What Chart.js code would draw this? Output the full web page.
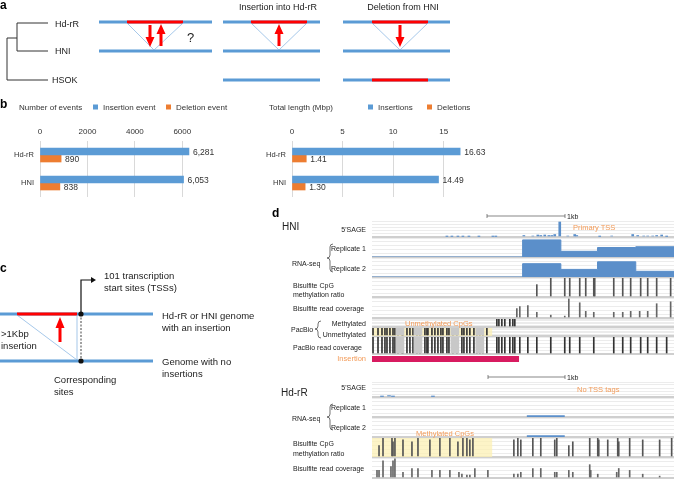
<!DOCTYPE html>
<html>
<head>
<meta charset="utf-8">
<script src="https://cdn.jsdelivr.net/npm/chart.js@4.4.0/dist/chart.umd.min.js"></script>
<style>
  body { margin: 0; background: #fff; width: 674px; height: 479px; overflow: hidden; position: relative;
         font-family: "Liberation Sans", Arial, sans-serif; }
  canvas { position: absolute; }
  svg { position: absolute; left: 0; top: 0; z-index: 2; pointer-events: none; }
  .g { stroke: #5b9bd5; stroke-width: 3; }
  .r { stroke: #ff0000; stroke-width: 3.2; }
  .t { stroke: #7fb0e0; stroke-width: 0.7; fill: none; }
  .lbl { font-size: 7px; fill: #222; }
  .org { font-size: 7.5px; fill: #f39c5a; }
</style>
</head>
<body>
<svg width="674" height="479" font-family="Liberation Sans, Arial, sans-serif">
  <!-- a -->
  <text x="0" y="9" font-size="12" font-weight="bold">a</text>
  <path d="M48 23H17V51H48M17 38H7V80H48" stroke="#333" stroke-width="1" fill="none"/>
  <g font-size="9" fill="#222">
    <text x="55" y="27">Hd-rR</text>
    <text x="55" y="54">HNI</text>
    <text x="52" y="83">HSOK</text>
    <text x="278" y="10" text-anchor="middle">Insertion into Hd-rR</text>
    <text x="403" y="10" text-anchor="middle">Deletion from HNI</text>
  </g>
  <line x1="99" y1="22" x2="212" y2="22" class="g"/>
  <line x1="127" y1="22" x2="183" y2="22" class="r"/>
  <line x1="99" y1="51" x2="212" y2="51" class="g"/>
  <polyline points="127,23 154,50 183,23" class="t"/>
  <path d="M148.5 25h3v12h3l-4.5 10l-4.5-10h3z" fill="#ff0000"/>
  <path d="M159.5 46h3v-12h3l-4.5-10l-4.5 10h3z" fill="#ff0000"/>
  <text x="187" y="42" font-size="13" fill="#222">?</text>

  <line x1="223" y1="22" x2="320" y2="22" class="g"/>
  <line x1="251" y1="22" x2="307" y2="22" class="r"/>
  <line x1="223" y1="51" x2="320" y2="51" class="g"/>
  <polyline points="251,23 279,50 307,23" class="t"/>
  <path d="M277.5 46h3v-12h3l-4.5-10l-4.5 10h3z" fill="#ff0000"/>
  <line x1="223" y1="80" x2="320" y2="80" class="g"/>

  <line x1="343" y1="22" x2="450" y2="22" class="g"/>
  <line x1="372" y1="22" x2="428" y2="22" class="r"/>
  <line x1="343" y1="51" x2="450" y2="51" class="g"/>
  <polyline points="372,23 400,50 428,23" class="t"/>
  <path d="M398.5 25h3v12h3l-4.5 10l-4.5-10h3z" fill="#ff0000"/>
  <line x1="343" y1="80" x2="450" y2="80" class="g"/>
  <line x1="372" y1="80" x2="428" y2="80" class="r"/>

  <!-- b -->
  <text x="0" y="108" font-size="12" font-weight="bold">b</text>
  <g font-size="8" fill="#333">
    <text x="19" y="110">Number of events</text>
    <rect x="93" y="104.5" width="5" height="5" fill="#5b9bd5"/>
    <text x="103" y="110">Insertion event</text>
    <rect x="166" y="104.5" width="5" height="5" fill="#ed7d31"/>
    <text x="176" y="110">Deletion event</text>
    <text x="269" y="110">Total length (Mbp)</text>
    <rect x="368" y="104.5" width="5" height="5" fill="#5b9bd5"/>
    <text x="378" y="110">Insertions</text>
    <rect x="427" y="104.5" width="5" height="5" fill="#ed7d31"/>
    <text x="437" y="110">Deletions</text>
  </g>

  <!-- c -->
  <text x="0" y="272" font-size="12" font-weight="bold">c</text>
  <line x1="0" y1="314" x2="153" y2="314" class="g"/>
  <line x1="17" y1="314" x2="77" y2="314" class="r"/>
  <line x1="0" y1="361" x2="153" y2="361" class="g"/>
  <polyline points="17,315 77,360 77,315" class="t"/>
  <line x1="81" y1="314" x2="81" y2="361" stroke="#111" stroke-width="0.8" stroke-dasharray="2,1.5"/>
  <circle cx="81" cy="314" r="2.6" fill="#111"/>
  <circle cx="81" cy="361" r="2.6" fill="#111"/>
  <path d="M81 314V280H92" stroke="#111" stroke-width="1.2" fill="none"/>
  <path d="M91 277l5 3l-5 3z" fill="#111"/>
  <path d="M58.5 342v-14h-3l4.5-11l4.5 11h-3v14z" fill="#ff0000"/>
  <g font-size="9.5" fill="#222">
    <text x="104" y="279">101 transcription</text>
    <text x="104" y="291">start sites (TSSs)</text>
    <text x="162" y="319">Hd-rR or HNI genome</text>
    <text x="162" y="331">with an insertion</text>
    <text x="162" y="365">Genome with no</text>
    <text x="162" y="377">insertions</text>
    <text x="1" y="337">&gt;1Kbp</text>
    <text x="1" y="349">insertion</text>
    <text x="54" y="383">Corresponding</text>
    <text x="54" y="395">sites</text>
  </g>

  <!-- d -->
  <text x="272" y="217" font-size="12" font-weight="bold">d</text>
  <text x="282" y="230" font-size="10" fill="#222">HNI</text>
  <path d="M487 216H565M487 214v4M565 214v4" stroke="#555" stroke-width="0.7"/>
  <text x="567" y="219" class="lbl">1kb</text>
  <text x="366" y="232" class="lbl" text-anchor="end">5'SAGE</text>
  <text x="366" y="251" class="lbl" text-anchor="end">Replicate 1</text>
  <text x="366" y="271" class="lbl" text-anchor="end">Replicate 2</text>
  <text x="292" y="266" class="lbl">RNA-seq</text>
  <path d="M333 244Q330 244 330 247L330 255Q330 258 327 258Q330 258 330 261L330 269Q330 272 333 272" stroke="#333" stroke-width="0.7" fill="none"/>
  <text x="293" y="288" class="lbl">Bisulfite CpG</text>
  <text x="293" y="297" class="lbl">methylation ratio</text>
  <text x="293" y="311" class="lbl">Bisulfite read coverage</text>
  <text x="366" y="326" class="lbl" text-anchor="end">Methylated</text>
  <text x="366" y="337" class="lbl" text-anchor="end">Unmethylated</text>
  <text x="291" y="332" class="lbl">PacBio</text>
  <path d="M321 321Q318 321 318 324L318 326Q318 329 315 329Q318 329 318 332L318 335Q318 338 321 338" stroke="#333" stroke-width="0.7" fill="none"/>
  <text x="293" y="350" class="lbl">PacBio read coverage</text>
  <text x="366" y="361" class="org" text-anchor="end">Insertion</text>
  <text x="573" y="230" class="org">Primary TSS</text>
  <text x="405" y="326" class="org">Unmethylated CpGs</text>

  <text x="281" y="396" font-size="10" fill="#222">Hd-rR</text>
  <path d="M488 377H565M488 375v4M565 375v4" stroke="#555" stroke-width="0.7"/>
  <text x="567" y="380" class="lbl">1kb</text>
  <text x="366" y="390" class="lbl" text-anchor="end">5'SAGE</text>
  <text x="366" y="410" class="lbl" text-anchor="end">Replicate 1</text>
  <text x="366" y="430" class="lbl" text-anchor="end">Replicate 2</text>
  <text x="292" y="421" class="lbl">RNA-seq</text>
  <path d="M333 404Q330 404 330 407L330 414Q330 417 327 417Q330 417 330 420L330 427Q330 430 333 430" stroke="#333" stroke-width="0.7" fill="none"/>
  <text x="577" y="392" class="org">No TSS tags</text>
  <text x="416" y="436" class="org">Methylated CpGs</text>
  <text x="293" y="446" class="lbl">Bisulfite CpG</text>
  <text x="293" y="456" class="lbl">methylation ratio</text>
  <text x="293" y="471" class="lbl">Bisulfite read coverage</text>
</svg>

<script>
// panel b
const lines = ['Hd-rR', 'HNI'];
const insertionEvents = [6281, 6053];
const deletionEvents = [890, 838];
const insertionMbp = [16.63, 14.49];
const deletionMbp = [1.41, 1.30];
const eventTicks = [0, 2000, 4000, 6000];
const lengthTicks = [0, 5, 10, 15];

// panel d, positions in bp from the left edge of the window
const TRACK_BP = 3870;
const insertionSpan = [0, 1880];
const cpgSpan = [0, 1540];

const sageHniPos = [960, 1024, 1101, 1165, 1242, 1370, 1549, 1587, 1946, 2061, 2125, 2163, 2214, 2266, 2304,
  2342, 2406, 2509, 2598, 2624, 2918, 3072, 3341, 3405, 3482, 3533, 3597, 3648, 3712, 3776];
const sageHniTags = [1, 1, 1, 1, 1, 1, 1, 1, 3, 2, 4, 3, 4, 3, 3, 5, 30, 2, 5, 3, 1, 2, 5, 3, 2, 2, 2, 3, 4, 1];

const rnaSteps = [0, 1930, 2420, 2890, 3380, 3870];
const rnaHniRep1 = [0, 45, 15, 25, 27, 27];
const rnaHniRep2 = [0, 35, 20, 40, 15, 15];

const bsRatioHniPos = [2112, 2291, 2470, 2534, 2662, 2739, 2842, 2854, 3098, 3213, 3315, 3443, 3533, 3648, 3827];
const bsRatioHni = [0.65, 1, 1, 1, 1, 1, 1, 1, 1, 1, 1, 1, 1, 1, 1];
const bsCovHniPos = [1856, 1894, 1997, 2112, 2291, 2470, 2522, 2662, 2739, 2842, 3098, 3213, 3315, 3430, 3533, 3648, 3827];
const bsCovHni = [10, 12, 13, 6, 3, 2, 20, 16, 7, 6, 6, 6, 7, 7, 7, 15, 17];

const pbMethHniPos = [1600, 1626, 1664, 1702, 1766, 1805, 1830];
const pbUnmethHniPos = [13, 77, 128, 166, 192, 230, 269, 294, 333, 384, 397, 448, 486, 525, 576, 614, 678, 704,
  717, 768, 806, 845, 883, 909, 960, 986, 1037, 1088, 1152, 1178, 1216, 1254, 1306, 1344, 1382, 1421, 1472];
const pbBandsHniPos = [358, 589, 1062, 1382];
const pbCovRightHniPos = [1894, 1997, 2112, 2291, 2470, 2534, 2662, 2842, 3098, 3213, 3315, 3443, 3533, 3648, 3776];

const sageHdPos = [128, 218, 269, 781];
const sageHdTags = [1, 3, 1, 1];
const rnaHdSpan = [1984, 2470];
const rnaHdRep1 = 2;
const rnaHdRep2 = 2;

const bsRatioHdPos = [90, 141, 256, 269, 294, 397, 512, 589, 742, 870, 998, 1101, 1165, 1216, 1254, 1293, 1818,
  1869, 1907, 2061, 2163, 2342, 2368, 2522, 2573, 2790, 2893, 2906, 3021, 3149, 3162, 3302, 3469, 3686, 3840];
const bsRatioHd = [0.6, 1, 1, 0.8, 1, 0.9, 0.8, 1, 0.9, 1, 1, 0.8, 1, 1, 0.9, 1, 0.9, 1, 0.9, 1, 1, 0.9, 1, 0.6,
  0.8, 1, 1, 0.9, 0.9, 1, 0.8, 1, 0.9, 0.9, 1];
const bsCovHdPos = [64, 90, 141, 243, 269, 294, 397, 512, 589, 768, 870, 998, 1114, 1152, 1216, 1254, 1318, 1485,
  1818, 1869, 1907, 2061, 2163, 2342, 2368, 2522, 2573, 2790, 2803, 2893, 3136, 3162, 3302, 3469, 3686];
const bsCovHd = [8, 8, 18, 12, 18, 20, 6, 10, 10, 8, 8, 8, 6, 4, 3, 3, 10, 8, 4, 4, 6, 10, 10, 6, 6, 8, 6, 14, 8,
  4, 6, 10, 8, 4, 2];

const BLUE = '#5b9bd5';
const ORANGE = '#ed7d31';
const TRACK_BLUE = '#5b8fca';
const FONT = '"Liberation Sans", Arial, sans-serif';

const place = (left, top, width, height) => {
  const c = document.createElement('canvas');
  c.width = width;
  c.height = height;
  c.style.left = left + 'px';
  c.style.top = top + 'px';
  document.body.appendChild(c);
  return c;
};

const barLabels = {
  id: 'barLabels',
  afterDatasetsDraw(chart, args, opts) {
    const ctx = chart.ctx;
    ctx.save();
    ctx.font = '8.5px ' + FONT;
    ctx.fillStyle = '#333';
    ctx.textBaseline = 'middle';
    chart.data.datasets.forEach((ds, i) => {
      chart.getDatasetMeta(i).data.forEach((bar, j) => {
        ctx.fillText(opts.format(ds.data[j]), bar.x + 4, bar.y + 1);
      });
    });
    ctx.restore();
  }
};

const addBars = (canvas, ins, del, max, ticks, axisWidth, format) => {
  new Chart(canvas, {
    type: 'bar',
    data: {
      labels: lines,
      datasets: [
        { data: ins, backgroundColor: BLUE, barThickness: 7 },
        { data: del, backgroundColor: ORANGE, barThickness: 7 }
      ]
    },
    options: {
      indexAxis: 'y',
      animation: false,
      responsive: false,
      events: [],
      layout: { padding: { right: canvas.width - axisWidth - max.px } },
      plugins: { legend: { display: false }, tooltip: { enabled: false }, barLabels: { format } },
      scales: {
        x: {
          position: 'top', min: 0, max: max.value,
          afterBuildTicks: s => { s.ticks = ticks.map(v => ({ value: v })); },
          afterFit: s => { s.height = 23; },
          grid: { color: '#d9d9d9', drawTicks: false },
          border: { display: false },
          ticks: { padding: 4, color: '#333', font: { size: 8, family: FONT }, callback: v => String(v) }
        },
        y: {
          afterFit: s => { s.width = axisWidth; s.paddingTop = 0; s.paddingBottom = 0; },
          grid: { display: false, drawTicks: false },
          border: { display: false },
          ticks: { padding: 6, color: '#333', font: { size: 7.5, family: FONT } }
        }
      }
    },
    plugins: [barLabels]
  });
};

addBars(place(0, 118, 230, 79), insertionEvents, deletionEvents, { value: 7000, px: 166 }, eventTicks, 40,
  v => v.toLocaleString('en-US'));
addBars(place(250, 118, 250, 79), insertionMbp, deletionMbp, { value: 18, px: 182 }, lengthTicks, 42,
  v => v.toFixed(2));

// genome tracks
const highlight = {
  id: 'highlight',
  beforeDatasetsDraw(chart, args, opts) {
    if (!opts.range) return;
    const { ctx, chartArea: a, scales: { x } } = chart;
    const x0 = x.getPixelForValue(opts.range[0]);
    const x1 = x.getPixelForValue(opts.range[1]);
    ctx.save();
    ctx.fillStyle = 'rgba(252, 240, 180, 0.75)';
    ctx.fillRect(x0, a.top, x1 - x0, a.bottom - a.top);
    ctx.restore();
  }
};

const marks = (pos, vals, color, thickness) => ({
  data: pos.map((x, i) => ({ x, y: vals ? vals[i] : 1 })),
  backgroundColor: color,
  barThickness: thickness || 1
});

const steps = (xs, ys) => ({
  type: 'line',
  data: xs.map((x, i) => ({ x, y: ys[i] })),
  stepped: true,
  fill: 'origin',
  borderColor: TRACK_BLUE,
  backgroundColor: TRACK_BLUE,
  borderWidth: 1,
  pointRadius: 0
});

const flat = (span, y) => ({
  type: 'line',
  data: span.map(x => ({ x, y })),
  borderColor: TRACK_BLUE,
  borderWidth: 2,
  fill: false,
  pointRadius: 0
});

const track = (top, height, datasets, ymax, range) => {
  new Chart(place(372, top, 302, height), {
    type: 'bar',
    data: { datasets },
    options: {
      animation: false,
      responsive: false,
      events: [],
      layout: { padding: { bottom: 1 } },
      plugins: { legend: { display: false }, tooltip: { enabled: false }, highlight: { range } },
      datasets: { bar: { grouped: false } },
      scales: {
        x: { type: 'linear', min: 0, max: TRACK_BP, offset: false, display: false },
        y: {
          min: 0, max: ymax,
          afterFit: s => { s.width = 0; },
          ticks: { display: false, stepSize: ymax / 5 },
          border: { display: false },
          grid: {
            drawTicks: false,
            color: c => c.tick.value === 0 ? '#cfcfcf' : '#ececec',
            lineWidth: c => c.tick.value === 0 ? 2 : 1
          }
        }
      }
    },
    plugins: [highlight]
  });
};

// HNI
track(221, 17, [marks(sageHniPos, sageHniTags, TRACK_BLUE, 2)], 32);
track(238, 20, [steps(rnaSteps, rnaHniRep1)], 50);
track(258, 20, [steps(rnaSteps, rnaHniRep2)], 50);
track(278, 20, [marks(bsRatioHniPos, bsRatioHni, '#555')], 1);
track(298, 21, [marks(bsCovHniPos, bsCovHni, '#666')], 21);
track(319, 9, [marks(pbMethHniPos, null, '#333')], 1);
track(328, 9, [marks(pbBandsHniPos, null, '#c8c8c8', 8), marks(pbUnmethHniPos, null, '#333')], 1, cpgSpan);
track(337, 18, [marks(pbBandsHniPos, null, '#c8c8c8', 8),
  marks([...pbUnmethHniPos, ...pbMethHniPos, ...pbCovRightHniPos], null, '#333')], 1);

new Chart(place(372, 356, 302, 6), {
  type: 'bar',
  data: { labels: ['Insertion'], datasets: [{ data: [insertionSpan], backgroundColor: '#d81b60',
    barPercentage: 1, categoryPercentage: 1 }] },
  options: {
    indexAxis: 'y', animation: false, responsive: false, events: [],
    plugins: { legend: { display: false }, tooltip: { enabled: false } },
    scales: { x: { min: 0, max: TRACK_BP, display: false }, y: { display: false } }
  }
});

// Hd-rR
track(382, 16, [marks(sageHdPos, sageHdTags, TRACK_BLUE, 3)], 32);
track(398, 20, [flat(rnaHdSpan, rnaHdRep1)], 50);
track(418, 20, [flat(rnaHdSpan, rnaHdRep2)], 50);
track(438, 20, [marks(bsRatioHdPos, bsRatioHd, '#555')], 1, cpgSpan);
track(458, 21, [marks(bsCovHdPos, bsCovHd, '#666')], 21);
</script>
</body>
</html>
